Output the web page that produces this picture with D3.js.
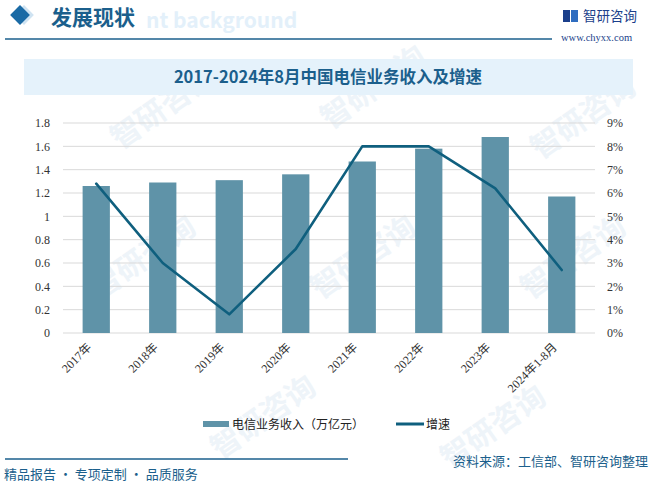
<!DOCTYPE html>
<html lang="zh">
<head>
<meta charset="UTF-8">
<title>2017-2024年8月中国电信业务收入及增速</title>
<script src="https://d3js.org/d3.v7.min.js"></script>
<style>
    body { margin: 0; background: #fff; }
    svg text { font-family: "Noto Sans CJK SC", sans-serif; }
    .serif { font-family: "Liberation Serif", "DejaVu Serif", "Noto Sans CJK SC", serif !important; }
    .grid line { stroke: #d9d9d9; stroke-width: 1; }
</style>
</head>
<body>
<svg id="chart" width="654" height="486"></svg>
<script>
// chart data
const categories = ["2017年", "2018年", "2019年", "2020年", "2021年", "2022年", "2023年", "2024年1-8月"];
const revenue = [1.26, 1.29, 1.31, 1.36, 1.47, 1.58, 1.68, 1.17];   // 万亿元
const growth = [6.4, 3.0, 0.8, 3.6, 8.0, 8.0, 6.2, 2.7];            // %
const leftTicks = [0, 0.2, 0.4, 0.6, 0.8, 1, 1.2, 1.4, 1.6, 1.8];
const rightTicks = [0, 1, 2, 3, 4, 5, 6, 7, 8, 9];

const svg = d3.select("#chart");
const blue = "#1b5f8c";

// faint watermarks
const wm = svg.append("g").attr("fill", "#eef4f9");
[[120, 150], [330, 130], [540, 160], [100, 300], [320, 300], [530, 300], [220, 460], [450, 470]].forEach(p => {
    wm.append("text").attr("transform", `translate(${p[0]},${p[1]}) rotate(-35)`)
        .attr("font-size", 30).attr("font-weight", "bold").text("智研咨询");
});

// header
svg.append("rect").attr("x", 17).attr("y", 8).attr("width", 14).attr("height", 14)
    .attr("transform", "rotate(45 24 15)").attr("fill", "#cfe3f2");
svg.append("rect").attr("x", 13).attr("y", 8).attr("width", 14).attr("height", 14)
    .attr("transform", "rotate(45 20 15)").attr("fill", "#1a6aa5");
svg.append("text").attr("x", 146).attr("y", 28).attr("font-size", 21).attr("font-weight", "bold")
    .attr("fill", "#e3f0fa").attr("font-family", "Liberation Sans, sans-serif").text("nt background");
svg.append("text").attr("x", 51).attr("y", 25).attr("font-size", 21).attr("font-weight", "bold")
    .attr("fill", blue).text("发展现状");
svg.append("line").attr("x1", 5).attr("x2", 552).attr("y1", 39).attr("y2", 39)
    .attr("stroke", blue).attr("stroke-width", 1.5);

// logo
const logo = svg.append("g");
logo.append("rect").attr("x", 563).attr("y", 10).attr("width", 7).attr("height", 12).attr("fill", "#1b3f8b");
logo.append("rect").attr("x", 571).attr("y", 10).attr("width", 7).attr("height", 12).attr("fill", "#2f6dc0");
logo.append("text").attr("x", 583).attr("y", 21).attr("font-size", 13.5).attr("fill", "#1b3f8b").text("智研咨询");
logo.append("text").attr("x", 561).attr("y", 41).attr("font-size", 10.5).attr("fill", "#1b3f8b")
    .attr("class", "serif").text("www.chyxx.com");

// title bar
svg.append("rect").attr("x", 24).attr("y", 59).attr("width", 609).attr("height", 36).attr("fill", "#e5f2fb");
svg.append("text").attr("x", 328).attr("y", 83).attr("text-anchor", "middle")
    .attr("font-size", 16.5).attr("font-weight", "bold").attr("fill", blue)
    .text("2017-2024年8月中国电信业务收入及增速");

// plot area
const x0 = 63, x1 = 595, yTop = 123, yBot = 333;
const x = d3.scaleBand().domain(categories).range([x0, x1]).paddingInner(0.59).paddingOuter(0.295);
const yL = d3.scaleLinear().domain([0, 1.8]).range([yBot, yTop]);
const yR = d3.scaleLinear().domain([0, 9]).range([yBot, yTop]);

// gridlines
svg.append("g").attr("class", "grid")
    .selectAll("line").data(leftTicks).join("line")
    .attr("x1", x0).attr("x2", x1)
    .attr("y1", d => yL(d)).attr("y2", d => yL(d));

// left axis
const axL = svg.append("g").attr("transform", `translate(${x0 - 10},0)`)
    .call(d3.axisLeft(yL).tickValues(leftTicks).tickSize(0).tickFormat(d => d3.format("")(+d.toFixed(1))));
axL.select(".domain").remove();
axL.selectAll("text").attr("class", "serif").attr("font-size", 12).attr("fill", "#333");

// right axis
const axR = svg.append("g").attr("transform", `translate(${x1 + 9},0)`)
    .call(d3.axisRight(yR).tickValues(rightTicks).tickSize(0).tickFormat(d => d + "%"));
axR.select(".domain").remove();
axR.selectAll("text").attr("class", "serif").attr("font-size", 12).attr("fill", "#333");

// bars
svg.append("g").selectAll("rect").data(revenue).join("rect")
    .attr("x", (d, i) => x(categories[i]))
    .attr("width", x.bandwidth())
    .attr("y", d => yL(d))
    .attr("height", d => yBot - yL(d))
    .attr("fill", "#5f93a8");

// growth line
const line = d3.line()
    .x((d, i) => x(categories[i]) + x.bandwidth() / 2)
    .y(d => yR(d));
svg.append("path").datum(growth).attr("d", line)
    .attr("fill", "none").attr("stroke", "#0f5f7e").attr("stroke-width", 2.6)
    .attr("stroke-linejoin", "round").attr("stroke-linecap", "round");

// x labels
svg.append("g").selectAll("text").data(categories).join("text")
    .attr("class", "serif")
    .attr("transform", d => `translate(${x(d) + x.bandwidth() / 2 - 4},${yBot + 15}) rotate(-45)`)
    .attr("text-anchor", "end").attr("font-size", 12).attr("fill", "#333")
    .text(d => d);

// legend
const lg = svg.append("g");
lg.append("rect").attr("x", 203).attr("y", 421).attr("width", 26).attr("height", 6).attr("fill", "#5f93a8");
lg.append("text").attr("x", 232).attr("y", 429).attr("font-size", 12).attr("fill", "#222").text("电信业务收入（万亿元）");
lg.append("line").attr("x1", 396).attr("x2", 424).attr("y1", 424).attr("y2", 424)
    .attr("stroke", "#0f5f7e").attr("stroke-width", 3);
lg.append("text").attr("x", 426).attr("y", 429).attr("font-size", 12).attr("fill", "#222").text("增速");

// footer
svg.append("line").attr("x1", 5).attr("x2", 348).attr("y1", 459).attr("y2", 459)
    .attr("stroke", blue).attr("stroke-width", 1.5);
svg.append("text").attr("x", 648).attr("y", 466).attr("text-anchor", "end")
    .attr("font-size", 13).attr("fill", blue).text("资料来源：工信部、智研咨询整理");
svg.append("text").attr("x", 4).attr("y", 479)
    .attr("font-size", 13).attr("fill", blue).text("精品报告 · 专项定制 · 品质服务");
</script>
</body>
</html>
